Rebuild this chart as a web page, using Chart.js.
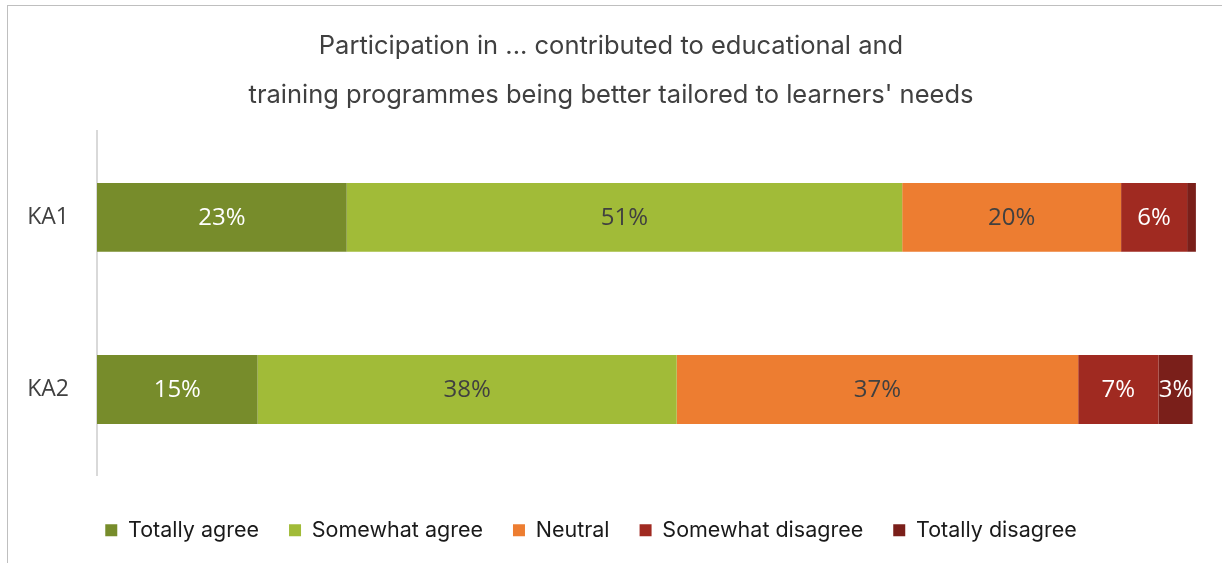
<!DOCTYPE html>
<html>
<head>
<meta charset="utf-8">
<title>Participation survey</title>
<script src="https://cdn.jsdelivr.net/npm/chart.js@4"></script>
<style>
  html, body { margin: 0; padding: 0; background: #fff; }
  #wrap { position: relative; width: 1222px; height: 563px; }
  #frame {
    position: absolute; left: 7px; top: 5px; right: -10px; bottom: -10px;
    border-top: 1.5px solid #bfbfbf; border-left: 1.5px solid #bfbfbf;
    pointer-events: none;
  }
  canvas { position: absolute; left: 0; top: 0; }
</style>
</head>
<body>
<div id="wrap">
  <canvas id="chart" width="1222" height="563"></canvas>
  <div id="frame"></div>
</div>
<script>
// Survey answers, share of respondents in percent
const groups = ['KA1', 'KA2'];
const answers = ['Totally agree', 'Somewhat agree', 'Neutral', 'Somewhat disagree', 'Totally disagree'];
const totallyAgree = [22.7, 14.6];
const somewhatAgree = [50.5, 38.1];
const neutral = [19.9, 36.5];
const somewhatDisagree = [6.0, 7.3];
const totallyDisagree = [0.8, 3.1];

const seriesValues = [totallyAgree, somewhatAgree, neutral, somewhatDisagree, totallyDisagree];
const colors = ['#778c2b', '#a1bb38', '#ed7d31', '#a02a21', '#7a1f1a'];
const labelColors = ['#ffffff', '#404040', '#404040', '#ffffff', '#ffffff'];

const textFont = 'Inter, "Open Sans", sans-serif';
const valueFont = '"Open Sans", sans-serif';

// draws the rounded percentage in the middle of each segment, clipped to it
const segmentLabels = {
  id: 'segmentLabels',
  afterDatasetsDraw(chart) {
    const ctx = chart.ctx;
    chart.data.datasets.forEach((ds, i) => {
      const meta = chart.getDatasetMeta(i);
      meta.data.forEach((bar, j) => {
        const v = ds.data[j];
        if (v < 2) return;
        const left = Math.min(bar.base, bar.x);
        const right = Math.max(bar.base, bar.x);
        const h = bar.height;
        ctx.save();
        ctx.beginPath();
        ctx.rect(left, bar.y - h / 2, right - left, h);
        ctx.clip();
        ctx.font = '24px ' + valueFont;
        ctx.fillStyle = labelColors[i];
        ctx.textAlign = 'center';
        ctx.textBaseline = 'middle';
        ctx.fillText(Math.round(v) + '%', (left + right) / 2, bar.y + 1);
        ctx.restore();
      });
    });
  }
};

// nudge the legend row a bit left of centre
const legendShift = {
  id: 'legendShift',
  afterLayout(chart) {
    const lg = chart.legend;
    lg.left -= 20;
    lg.right -= 20;
  }
};

const ctx = document.getElementById('chart').getContext('2d');
new Chart(ctx, {
  type: 'bar',
  data: {
    labels: groups,
    datasets: answers.map((name, i) => ({
      label: name,
      data: seriesValues[i],
      backgroundColor: colors[i],
      borderWidth: 0,
      categoryPercentage: 1,
      barPercentage: 0.4
    }))
  },
  options: {
    indexAxis: 'y',
    responsive: false,
    animation: false,
    layout: { padding: { left: 25, right: 25, top: 0, bottom: 12 } },
    scales: {
      x: {
        stacked: true,
        min: 0,
        max: 100,
        grid: { display: false },
        border: { display: false },
        ticks: { display: false },
        afterFit(scale) { scale.height = 14; }
      },
      y: {
        stacked: true,
        grid: { display: false, drawTicks: false },
        border: { display: true, color: '#d9d9d9', width: 2 },
        ticks: {
          padding: 28,
          color: '#404040',
          font: { family: valueFont, size: 23 }
        },
        afterFit(scale) { scale.width = 72; }
      }
    },
    plugins: {
      title: {
        display: true,
        text: ['Participation in ... contributed to educational and',
               "training programmes being better tailored to learners' needs"],
        color: '#404040',
        font: { family: textFont, size: 25.5, weight: 'normal', lineHeight: 1.92 },
        padding: { top: 21.5, bottom: 12 }
      },
      legend: {
        position: 'bottom',
        labels: {
          boxWidth: 12,
          boxHeight: 12,
          padding: 30,
          color: '#1a1a1a',
          font: { family: textFont, size: 21.5 }
        }
      },
      tooltip: { enabled: false }
    }
  },
  plugins: [segmentLabels, legendShift]
});
</script>
</body>
</html>
